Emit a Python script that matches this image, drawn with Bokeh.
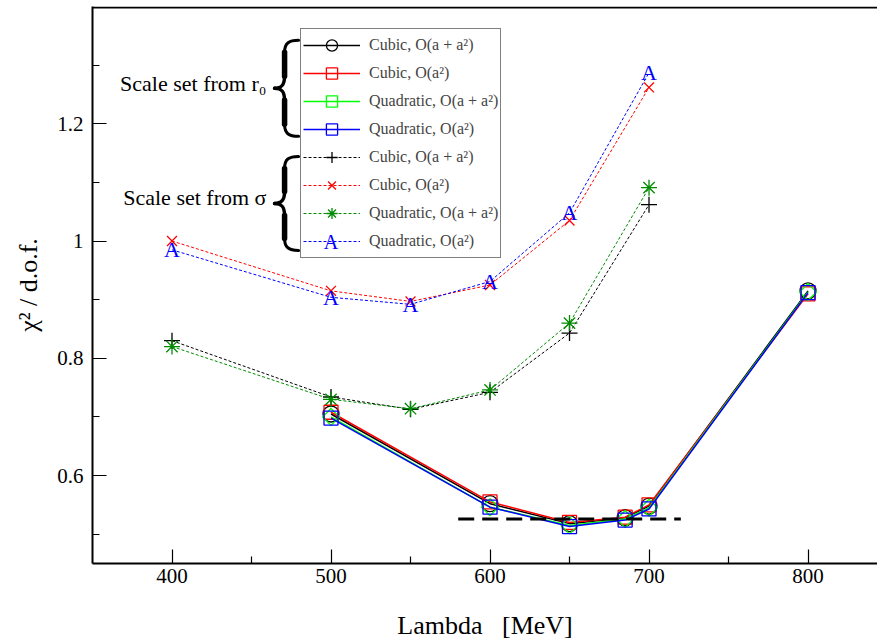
import math
from bokeh.plotting import figure
from bokeh.models import (Range1d, FixedTicker, CustomJSTickFormatter, Span, Legend,
                          LegendItem, ColumnDataSource)
from bokeh.core.properties import value
from bokeh.embed import file_html
from bokeh.resources import INLINE

# ---------------- data ----------------
# Scale set from r0 (solid lines)
lam_r0 = [500, 600, 650, 685, 700, 800]
cubic_r0_aa2 = [0.705, 0.552, 0.518, 0.528, 0.548, 0.915]
cubic_r0_a2 = [0.708, 0.555, 0.520, 0.529, 0.550, 0.910]
quad_r0_aa2 = [0.700, 0.546, 0.515, 0.526, 0.545, 0.913]
quad_r0_a2 = [0.698, 0.546, 0.513, 0.524, 0.543, 0.912]

# Scale set from sigma (dashed lines)
lam_sig = [400, 500, 550, 600, 650, 700]
cubic_sig_aa2 = [0.830, 0.734, 0.713, 0.742, 0.843, 1.062]
cubic_sig_a2 = [1.000, 0.915, 0.897, 0.925, 1.035, 1.262]
quad_sig_aa2 = [0.820, 0.730, 0.714, 0.746, 0.860, 1.091]
quad_sig_a2 = [0.985, 0.904, 0.892, 0.931, 1.048, 1.287]

# horizontal reference line
ref_x = [580, 720]
ref_y = [0.526, 0.526]

labels = ["Cubic, O(a + a\u00b2)", "Cubic, O(a\u00b2)",
          "Quadratic, O(a + a\u00b2)", "Quadratic, O(a\u00b2)"]

x_ticks = [400, 500, 600, 700, 800]
x_minor = [450, 550, 650, 750]
y_ticks = [0.6, 0.8, 1.0, 1.2]
y_minor = [0.5, 0.7, 0.9, 1.1, 1.3]

# ---------------- figure ----------------
X0, X1 = 350, 843.7
Y0, Y1 = 0.45, 1.40
FW, FH = 785, 557
SERIF = "Liberation Serif"

p = figure(width=877, height=644, x_range=Range1d(X0, X1), y_range=Range1d(Y0, Y1),
           output_backend="svg", toolbar_location=None,
           min_border_left=92, min_border_right=0, min_border_top=6, min_border_bottom=81)
p.outline_line_color = None
p.grid.visible = False

for ax in (p.xaxis[0], p.yaxis[0]):
    ax.axis_line_width = 2
    ax.axis_line_color = "black"
    ax.major_tick_in = 14
    ax.major_tick_out = 0
    ax.minor_tick_in = 7
    ax.minor_tick_out = 0
    ax.major_tick_line_width = 1.2
    ax.minor_tick_line_width = 1.2
    ax.major_tick_line_color = "black"
    ax.minor_tick_line_color = "black"
    ax.major_label_text_font = SERIF
    ax.major_label_text_font_size = "21px"
    ax.major_label_text_color = "black"
    ax.axis_label_text_font = SERIF
    ax.axis_label_text_font_size = "26px"
    ax.axis_label_text_font_style = "normal"
    ax.axis_label_text_color = "black"

p.xaxis.ticker = FixedTicker(ticks=x_ticks, minor_ticks=x_minor)
p.yaxis.ticker = FixedTicker(ticks=y_ticks, minor_ticks=y_minor)
p.yaxis.formatter = CustomJSTickFormatter(code="return String(Math.round(tick*10)/10);")
p.xaxis.major_label_standoff = 5
p.yaxis.major_label_standoff = 9
p.xaxis.axis_label = "Lambda\u00a0\u00a0\u00a0[MeV]"
p.yaxis.axis_label = "\u03c7\u00b2 / d.o.f."
p.xaxis.axis_label_standoff = 25
p.yaxis.axis_label_standoff = 11

# top frame line
p.add_layout(Span(location=Y1 - 0.0015, dimension="width", line_color="black", line_width=2))

# ---------------- series ----------------
items = []
# r0, solid
r0_series = [
    (cubic_r0_aa2, "black", "circle", 16, 0),
    (cubic_r0_a2, "#ff0000", "square", 14, 0),
    (quad_r0_aa2, "#00ff00", "square", 12, math.pi / 4),
    (quad_r0_a2, "#0000ff", "square", 14, 0),
]
for (ys, col, mk, sz, ang), lab in zip(r0_series, labels):
    ln = p.line(lam_r0, ys, line_color=col, line_width=1.5)
    sc = p.scatter(lam_r0, ys, marker=mk, size=sz, angle=ang, fill_color=None,
                   line_color=col, line_width=1.3)
    items.append(LegendItem(label=lab, renderers=[ln, sc]))

# sigma, dashed
sig_series = [
    (cubic_sig_aa2, "black", "cross", 16),
    (cubic_sig_a2, "#ff0000", "x", 14),
    (quad_sig_aa2, "#008b00", "asterisk", 16),
]
for (ys, col, mk, sz), lab in zip(sig_series, labels[:3]):
    ln = p.line(lam_sig, ys, line_color=col, line_width=1, line_dash="3 2")
    sc = p.scatter(lam_sig, ys, marker=mk, size=sz, line_color=col, line_width=1.3)
    items.append(LegendItem(label=lab, renderers=[ln, sc]))

ln = p.line(lam_sig, quad_sig_a2, line_color="#0000ff", line_width=1, line_dash="3 2")
tx = p.text(lam_sig, quad_sig_a2, text=value("A"), text_font=value(SERIF),
            text_font_size="22px", text_color="#0000ff", text_align="center",
            text_baseline="alphabetic", y_offset=0)
items.append(LegendItem(label=labels[3], renderers=[ln, tx]))

# reference dashed line
p.line(ref_x, ref_y, line_color="black", line_width=3, line_dash="16 8")

# ---------------- annotations: braces + texts ----------------
PXX = (X1 - X0) / FW
PXY = (Y1 - Y0) / FH


def brace_segments(xa, ym, h):
    segs = []
    for s in (1, -1):
        pieces = [
            ((-10, 0), (-3, 0), (0, 3), (0, 12), 3.5),
            ((0, 12), (0, 20), (0, h - 20), (0, h - 12), 5.5),
            ((0, h - 12), (0, h - 3), (4, h), (14, h), 3.0),
        ]
        for (a, b, c, d, w) in pieces:
            segs.append(dict(
                x0=xa + a[0] * PXX, y0=ym + s * a[1] * PXY,
                cx0=xa + b[0] * PXX, cy0=ym + s * b[1] * PXY,
                cx1=xa + c[0] * PXX, cy1=ym + s * c[1] * PXY,
                x1=xa + d[0] * PXX, y1=ym + s * d[1] * PXY, w=w))
    return segs


segs = brace_segments(470.8, 1.2604, 48) + brace_segments(470.8, 1.0642, 47)
bsrc = ColumnDataSource({k: [sg[k] for sg in segs] for k in segs[0]})
p.bezier(x0="x0", y0="y0", x1="x1", y1="y1", cx0="cx0", cy0="cy0", cx1="cx1", cy1="cy1",
         line_width="w", line_color="black", line_cap="round", source=bsrc)

p.text([459.4], [1.2519 + 10 * PXY], text=["Scale set from r\u2080"], text_font=value(SERIF),
       text_font_size="22px", text_align="right", text_baseline="alphabetic",
       text_color="black")
p.text([459.4], [1.0573 + 10 * PXY], text=["Scale set from \u03c3"], text_font=value(SERIF),
       text_font_size="22px", text_align="right", text_baseline="alphabetic",
       text_color="black")

# "A" symbol for the last legend entry (text markers have no legend glyph);
# the legend box is transparent, so this shows through it.
p.text([500.0], [0.9975], text=["A"], text_font=value(SERIF), text_font_size="20px",
       text_color="#0000ff", text_align="center", text_baseline="alphabetic")

# ---------------- legend ----------------
legend = Legend(items=items, location=(208, 305), margin=0, padding=2, spacing=0,
                glyph_width=57, glyph_height=28, label_height=28, label_standoff=9,
                label_text_font=SERIF, label_text_font_size="16px",
                border_line_color="black", border_line_width=1.5,
                background_fill_color="white", background_fill_alpha=0.0)
p.add_layout(legend)

open("out.html", "w").write(file_html(p, INLINE))
